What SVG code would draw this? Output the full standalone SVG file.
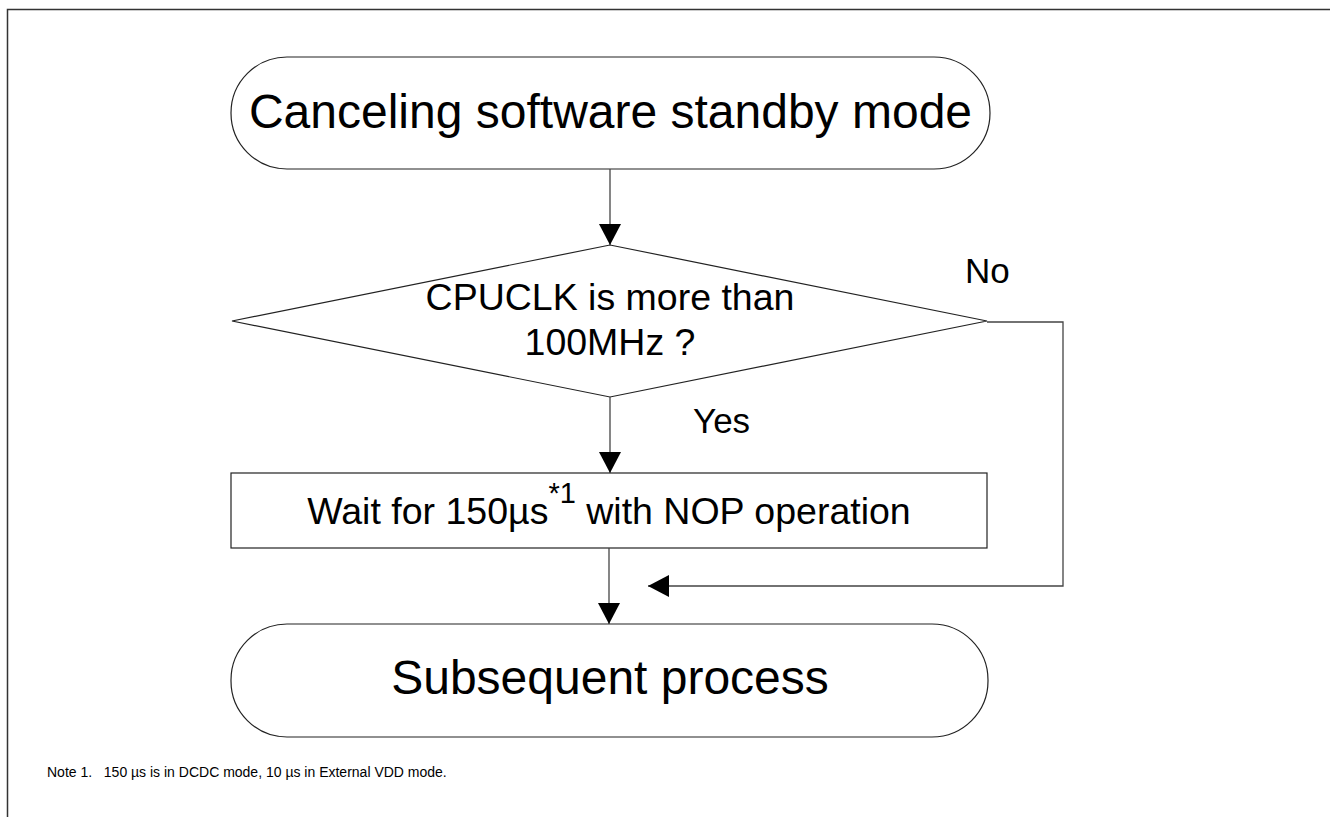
<svg xmlns="http://www.w3.org/2000/svg" width="1330" height="817" viewBox="0 0 1330 817">
<defs>
<style>
.shape{fill:#fff;stroke:#222;stroke-width:1.2}
.conn{fill:none;stroke:#444;stroke-width:1.3}
.t{font-family:"Liberation Sans",Arial,sans-serif;fill:#000}
</style>
<marker id="ah" markerWidth="22" markerHeight="22" viewBox="0 0 22 22" refX="21" refY="11" orient="auto" markerUnits="userSpaceOnUse">
<path d="M0,0 L21,11 L0,22 Z" fill="#000"/>
</marker>
</defs>
<rect width="1330" height="817" fill="#fff"/>
<path d="M7.5,817 V9.5 H1330" fill="none" stroke="#333" stroke-width="1.5"/>
<g id="start">
<rect class="shape" x="231" y="57" width="759" height="112" rx="56" ry="56"/>
<text class="t" x="610.5" y="128" font-size="48" text-anchor="middle">Canceling software standby mode</text>
</g>
<g id="decision">
<polygon class="shape" points="232,321 610,245 987,321 610,397"/>
<text class="t" x="610" y="310" font-size="37.5" text-anchor="middle">CPUCLK is more than</text>
<text class="t" x="610" y="355" font-size="37.5" text-anchor="middle">100MHz ?</text>
</g>
<g id="wait">
<rect class="shape" x="231" y="473" width="756" height="75"/>
<text class="t" x="609" y="524" font-size="37.5" text-anchor="middle">Wait for 150µs<tspan font-size="29" dy="-21">*1</tspan><tspan dy="21"> with NOP operation</tspan></text>
</g>
<g id="end">
<rect class="shape" x="231" y="624" width="757" height="113" rx="56" ry="56"/>
<text class="t" x="610" y="694" font-size="48" text-anchor="middle">Subsequent process</text>
</g>
<g id="connectors">
<line class="conn" x1="610" y1="169" x2="610" y2="245" marker-end="url(#ah)"/>
<line class="conn" x1="610" y1="397" x2="610" y2="473" marker-end="url(#ah)"/>
<line class="conn" x1="609" y1="548" x2="609" y2="624" marker-end="url(#ah)"/>
<polyline class="conn" points="987,322 1063,322 1063,586 648,586" marker-end="url(#ah)"/>
<text class="t" x="965" y="283" font-size="35">No</text>
<text class="t" x="693" y="433" font-size="35">Yes</text>
</g>
<g id="note">
<text class="t" x="47" y="777" font-size="14" xml:space="preserve">Note 1.   150 µs is in DCDC mode, 10 µs in External VDD mode.</text>
</g>
</svg>
